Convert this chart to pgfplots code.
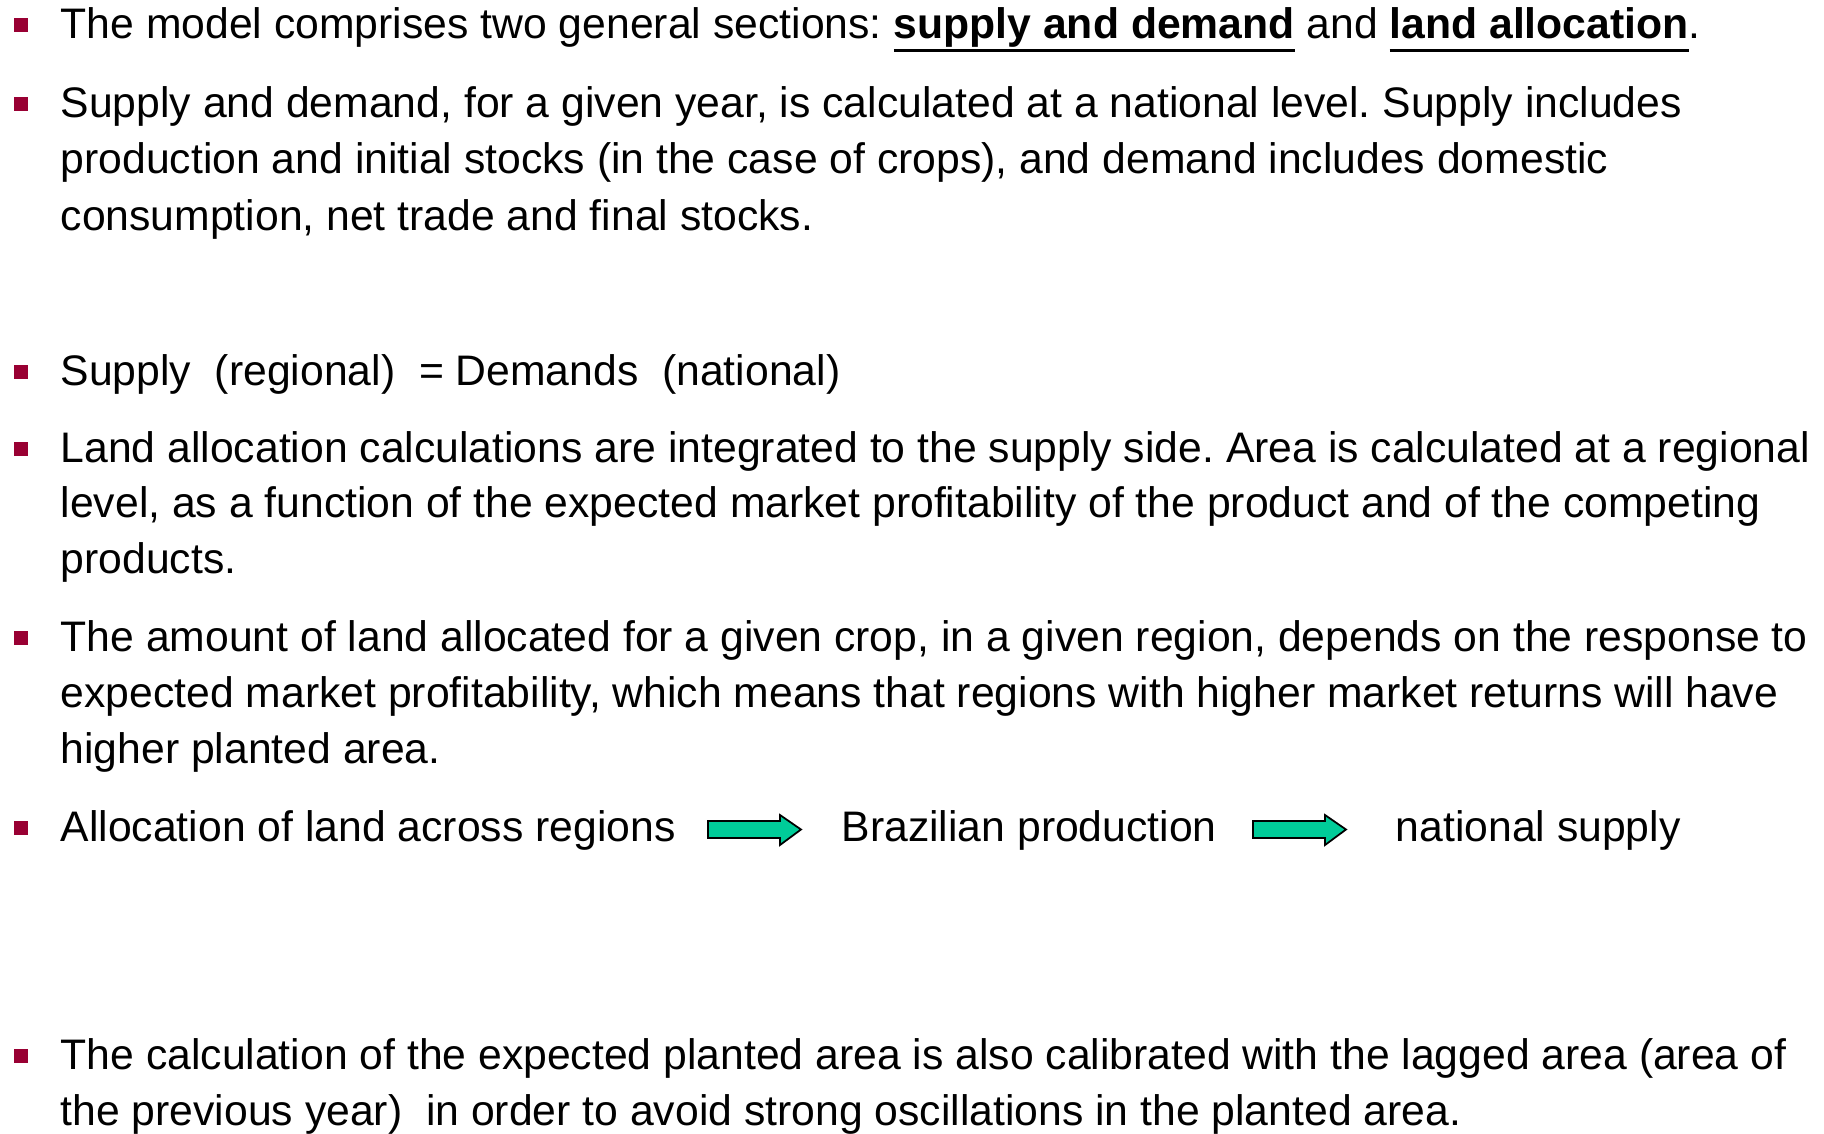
\documentclass[border=0pt]{standalone}
\usepackage{pgfplots}
\pgfplotsset{compat=1.18}
\usepackage{fontspec}
\setmainfont{Liberation Sans}
\definecolor{bulletred}{HTML}{990033}
\definecolor{arrowgreen}{HTML}{00CC99}
\newcommand\slidefont{\fontsize{12.15}{14.5}\selectfont\frenchspacing}
\newcommand\ul[1]{\setbox0\hbox{#1}\rlap{\rule[-0.3em]{\wd0}{0.075em}}\box0\relax}
\tikzset{txt/.style={anchor=base west, inner sep=0pt, font=\slidefont}}

\begin{document}
\begin{tikzpicture}
\begin{axis}[
  scale only axis, width=18.24cm, height=11.32cm,
  xmin=0, xmax=1824, ymin=0, ymax=1132, y dir=reverse,
  hide axis, clip=false,
]
% frame of the slide (keeps the page size)
\addplot[draw=none] coordinates {(0,0) (1824,1132)};

% bullets
\addplot[only marks, mark=square*, mark size=1.7pt, bulletred] coordinates
  {(21,25) (21,104) (21,372) (21,449) (21,638) (21,828) (21,1056)};

% arrows
\addplot[fill=arrowgreen, draw=black, line width=0.5pt] coordinates
  {(708,821) (780,821) (780,815) (801,829.5) (780,845) (780,838) (708,838)} -- cycle;
\addplot[fill=arrowgreen, draw=black, line width=0.5pt] coordinates
  {(1253,821) (1325,821) (1325,815) (1346,829.5) (1325,845) (1325,838) (1253,838)} -- cycle;

\node[txt] at (axis cs:60,39) {The model comprises two general sections: \ul{\textbf{supply and demand}} and \ul{\textbf{land allocation}}.};

\node[txt] at (axis cs:60,117) {Supply and demand, for a given year, is calculated at a national level. Supply includes};
\node[txt] at (axis cs:60,173) {production and initial stocks (in the case of crops), and demand includes domestic};
\node[txt] at (axis cs:60,230) {consumption, net trade and final stocks.};

\node[txt] at (axis cs:60,385) {Supply\ \ (regional)\ \ = Demands\ \ (national)};

\node[txt] at (axis cs:60,462) {Land allocation calculations are integrated to the supply side. Area is calculated at a regional};
\node[txt] at (axis cs:60,517) {level, as a function of the expected market profitability of the product and of the competing};
\node[txt] at (axis cs:60,573) {products.};

\node[txt] at (axis cs:60,651) {The amount of land allocated for a given crop, in a given region, depends on the response to};
\node[txt] at (axis cs:60,707) {expected market profitability, which means that regions with higher market returns will have};
\node[txt] at (axis cs:60,763) {higher planted area.};

\node[txt] at (axis cs:60,841) {Allocation of land across regions};
\node[txt] at (axis cs:841,841) {Brazilian production};
\node[txt] at (axis cs:1395,841) {national supply};

\node[txt] at (axis cs:60,1069) {The calculation of the expected planted area is also calibrated with the lagged area (area of};
\node[txt] at (axis cs:60,1125) {the previous year)\ \ in order to avoid strong oscillations in the planted area.};
\end{axis}
\end{tikzpicture}
\end{document}
